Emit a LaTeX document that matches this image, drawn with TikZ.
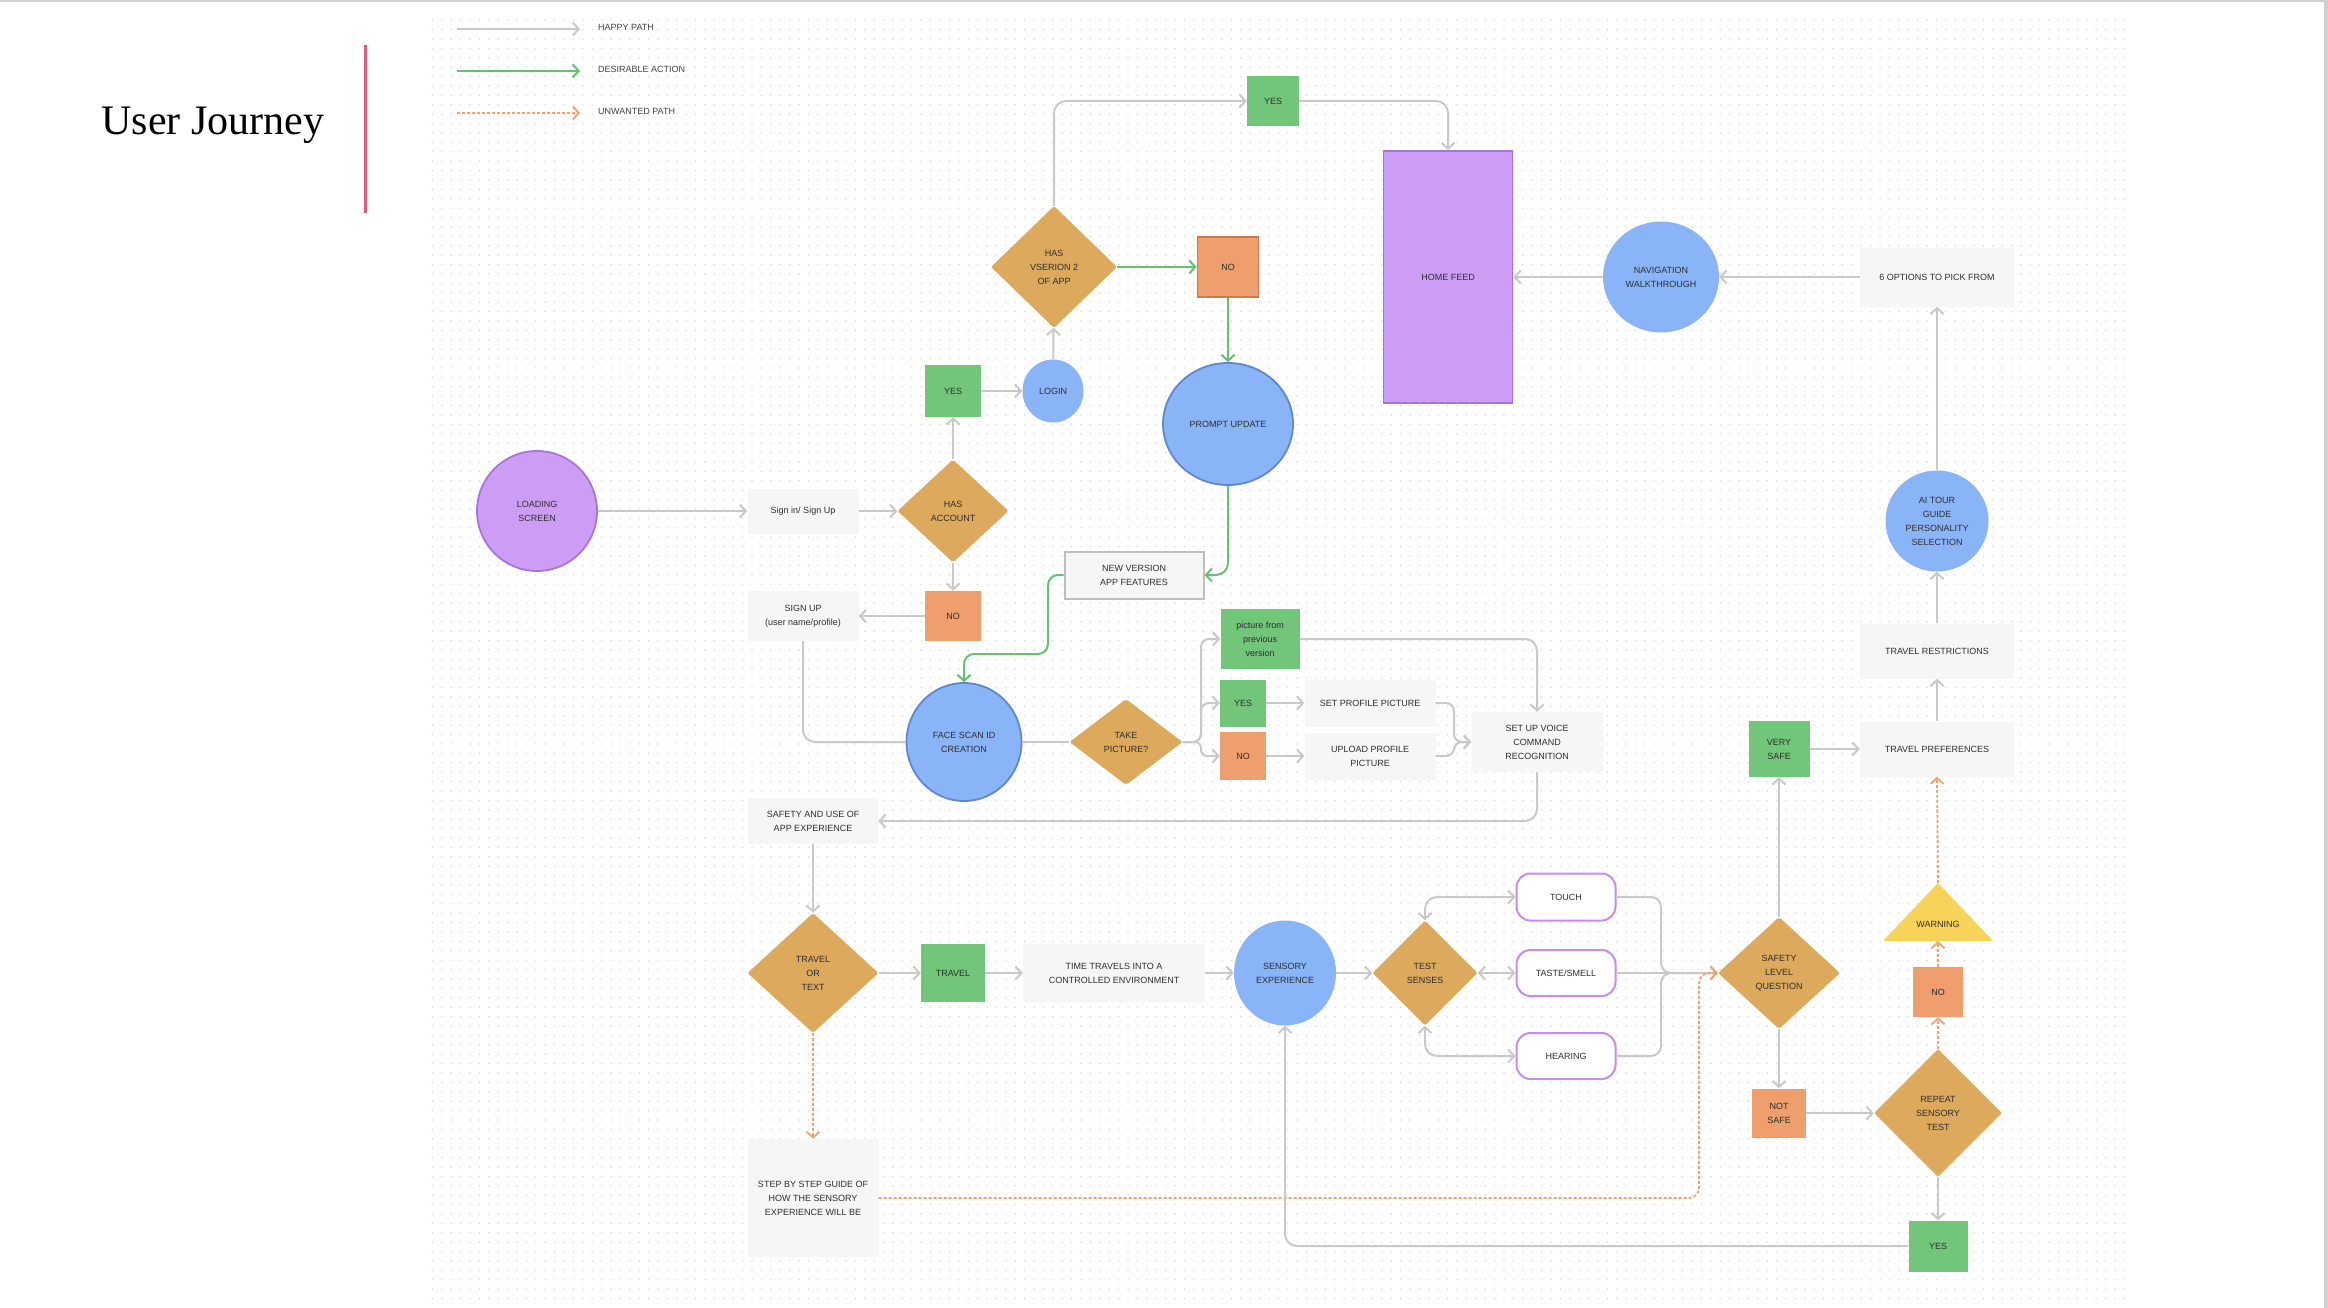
\documentclass[tikz,border=0pt]{standalone}
\usepackage{fontspec}
\setmainfont{Liberation Sans}
\newfontfamily\titlefont{Liberation Serif}
\usetikzlibrary{arrows.meta,shapes.geometric,patterns.meta}
\definecolor{cline}{HTML}{C9C9C9}
\definecolor{gline}{HTML}{62C46E}
\definecolor{oline}{HTML}{F2A26E}
\definecolor{purp}{HTML}{CD9DF6}
\definecolor{purpd}{HTML}{A873DA}
\definecolor{bluef}{HTML}{8AB4F8}
\definecolor{blued}{HTML}{5F87CF}
\definecolor{greenf}{HTML}{72C67A}
\definecolor{orangef}{HTML}{EF9E6D}
\definecolor{oranged}{HTML}{C97A4E}
\definecolor{gold}{HTML}{DCA95D}
\definecolor{boxg}{HTML}{F6F6F6}
\definecolor{boxgd}{HTML}{BEBEBE}
\definecolor{yel}{HTML}{F8D35A}
\definecolor{tcol}{HTML}{2E2E2E}
\definecolor{sensb}{HTML}{C58CF2}
\definecolor{titlered}{HTML}{E05C79}
\definecolor{dotc}{HTML}{D8D8D8}
\definecolor{edgeg}{HTML}{D0D0D0}
\tikzset{
  every node/.style={text=tcol, font=\fontsize{9}{14}\selectfont, align=center, inner sep=0pt},
  sz/.style 2 args={minimum width=#1pt, minimum height=#2pt},
  gbox/.style={rectangle, fill=boxg},
  gboxb/.style={rectangle, fill=boxg, draw=boxgd, line width=2pt},
  gr/.style={rectangle, fill=greenf},
  org/.style={rectangle, fill=orangef},
  orgb/.style={rectangle, fill=orangef, draw=oranged, line width=1.8pt},
  blu/.style={ellipse, fill=bluef},
  blub/.style={ellipse, fill=bluef, draw=blued, line width=1.8pt},
  pur/.style={fill=purp, draw=purpd, line width=1.8pt},
  dia/.style={diamond, fill=gold, rounded corners=2pt},
  sense/.style={rectangle, rounded corners=14pt, fill=white, draw=sensb, line width=2pt},
  jb/.tip={Straight Barb[length=6pt,width=13pt]},
  hp/.style={draw=cline, line width=2pt, -jb, rounded corners=12pt},
  hpl/.style={draw=cline, line width=2pt, rounded corners=12pt},
  hpb/.style={draw=cline, line width=2pt, jb-jb, rounded corners=12pt},
  da/.style={draw=gline, line width=2pt, -jb, rounded corners=12pt},
  ua/.style={draw=oline, line width=1.8pt, dash pattern=on 3pt off 2pt, -jb, rounded corners=12pt},
  legtext/.style={anchor=west, text=tcol!90, font=\fontsize{9}{11}\selectfont},
}
\begin{document}
\begin{tikzpicture}[x=1pt,y=-1pt]
\useasboundingbox (0,0) rectangle (2328,1308);
\fill[white] (0,0) rectangle (2328,1308);
% dotted canvas
\fill[pattern={Dots[radius=0.8pt,distance=9.4pt]}, pattern color=dotc] (428,20) rectangle (2132,1300);
% slide edges
\fill[edgeg] (0,0) rectangle (2328,2.5);
\fill[edgeg] (2324,0) rectangle (2328,1308);

% title
\node[font=\titlefont\fontsize{42}{48}\selectfont, text=black, anchor=base] (title) at (213,135) {User Journey};
\draw[titlered, line width=3pt] (365,45) -- (365,213);

% legend
\coordinate (l1a) at (457,29); \coordinate (l1b) at (580,29);
\coordinate (l2a) at (457,71); \coordinate (l2b) at (580,71);
\coordinate (l3a) at (457,113); \coordinate (l3b) at (580,113);
\draw[hp] (l1a) -- (l1b);
\draw[da] (l2a) -- (l2b);
\draw[ua] (l3a) -- (l3b);
\node[legtext] (lt1) at (598,27) {HAPPY PATH};
\node[legtext] (lt2) at (598,69) {DESIRABLE ACTION};
\node[legtext] (lt3) at (598,111) {UNWANTED PATH};

% ---------- nodes ----------
\node[ellipse, pur, sz={120}{120}] (load) at (537,511) {LOADING\\SCREEN};
\node[gbox, sz={111}{45}] (signin) at (803,511) {Sign in/ Sign Up};
\node[dia, sz={111}{103}] (hasacc) at (953,511) {HAS\\ACCOUNT};
\node[gr, sz={56}{52}] (yes1) at (953,391) {YES};
\node[blu, sz={61}{63}] (login) at (1053,391) {LOGIN};
\node[dia, sz={126}{122}] (hasv) at (1054,267) {HAS\\VSERION 2\\OF APP};
\node[gr, sz={52}{50}] (yes2) at (1273,101) {YES};
\node[rectangle, pur, sz={129}{252}] (home) at (1448,277) {HOME FEED};
\node[orgb, sz={61}{60}] (no1) at (1228,267) {NO};
\node[blub, sz={130}{122}] (prompt) at (1228,424) {PROMPT UPDATE};
\node[gboxb, sz={139}{47}] (newv) at (1134,575) {NEW VERSION\\APP FEATURES};
\node[org, sz={56}{50}] (no2) at (953,616) {NO};
\node[gbox, sz={111}{50}] (signup) at (803,616) {SIGN UP\\(user name/profile)};
\node[blub, sz={115}{118}] (face) at (964,742) {FACE SCAN ID\\CREATION};
\node[dia, sz={113}{86}] (take) at (1126,742) {TAKE\\PICTURE?};
\node[gr, sz={79}{60}] (prev) at (1260,639) {picture from\\previous\\version};
\node[gr, sz={46}{47}] (yes3) at (1243,703) {YES};
\node[org, sz={46}{48}] (no3) at (1243,756) {NO};
\node[gbox, sz={131}{47}] (setpp) at (1370,703) {SET PROFILE PICTURE};
\node[gbox, sz={131}{47}] (upload) at (1370,756) {UPLOAD PROFILE\\PICTURE};
\node[gbox, sz={131}{60}] (voice) at (1537,742) {SET UP VOICE\\COMMAND\\RECOGNITION};
\node[gbox, sz={130}{46}] (safety) at (813,821) {SAFETY AND USE OF\\APP EXPERIENCE};
\node[dia, sz={131}{120}] (tot) at (813,973) {TRAVEL\\OR\\TEXT};
\node[gr, sz={64}{58}] (travel) at (953,973) {TRAVEL};
\node[gbox, sz={182}{58}] (time) at (1114,973) {TIME TRAVELS INTO A\\CONTROLLED ENVIRONMENT};
\node[blu, sz={102}{105}] (sensory) at (1285,973) {SENSORY\\EXPERIENCE};
\node[dia, sz={105}{105}] (test) at (1425,973) {TEST\\SENSES};
\node[sense, sz={99}{47}] (touch) at (1566,897) {TOUCH};
\node[sense, sz={99}{46}] (taste) at (1566,973) {TASTE/SMELL};
\node[sense, sz={99}{46}] (hearing) at (1566,1056) {HEARING};
\node[gbox, sz={131}{118}] (step) at (813,1198) {STEP BY STEP GUIDE OF\\HOW THE SENSORY\\EXPERIENCE WILL BE};
\node[dia, sz={122}{112}] (safelvl) at (1779,973) {SAFETY\\LEVEL\\QUESTION};
\node[gr, sz={61}{56}] (verysafe) at (1779,749) {VERY\\SAFE};
\node[gbox, sz={154}{55}] (tpref) at (1937,749) {TRAVEL PREFERENCES};
\node[gbox, sz={154}{55}] (trestr) at (1937,651) {TRAVEL RESTRICTIONS};
\node[blu, sz={103}{101}] (ai) at (1937,521) {AI TOUR\\GUIDE\\PERSONALITY\\SELECTION};
\node[gbox, sz={154}{59}] (six) at (1937,277) {6 OPTIONS TO PICK FROM};
\node[blu, sz={116}{111}] (nav) at (1661,277) {NAVIGATION\\WALKTHROUGH};
\node[org, sz={54}{49}] (notsafe) at (1779,1113) {NOT\\SAFE};
\node[dia, sz={128}{128}] (repeat) at (1938,1113) {REPEAT\\SENSORY\\TEST};
\node[org, sz={50}{50}] (no4) at (1938,992) {NO};
\fill[yel, rounded corners=2pt] (1938,883) -- (1993,941) -- (1883,941) -- cycle;
\coordinate (warnt) at (1938,883);
\coordinate (warnb) at (1938,941);
\node (warn) at (1938,924) {WARNING};
\node[gr, sz={59}{51}] (yes4) at (1938,1246) {YES};

% ---------- connectors ----------
\draw[hp] (load) -- (signin);
\draw[hp] (signin) -- (hasacc);
\draw[hp] (hasacc) -- (yes1);
\draw[hp] (yes1) -- (login);
\draw[hp] (login) -- (hasv);
\draw[hp] (hasv.north) |- (yes2.west);
\draw[hp] (yes2.east) -| (home.north);
\draw[da] (hasv.east) -- (no1.west);
\draw[da] (no1.south) -- (prompt.north);
\draw[da] (prompt.south) |- (newv.east);
\draw[da, rounded corners=10pt] (newv.west) -- (1048,575) -- (1048,654) -- (964,654) -- (face.north);
\draw[hp] (hasacc.south) -- (no2.north);
\draw[hp] (no2.west) -- (signup.east);
\draw[hpl] (signup.south) |- (face.west);
\draw[hpl] (face.east) -- (take.west);
\draw[hp, rounded corners=8pt] (take.east) -- (1201,742) -- (1201,639) -- (prev.west);
\draw[hp, rounded corners=8pt] (take.east) -- (1201,742) -- (1201,703) -- (yes3.west);
\draw[hp, rounded corners=6pt] (take.east) -- (1201,742) -- (1201,756) -- (no3.west);
\draw[hp] (yes3.east) -- (setpp.west);
\draw[hp] (no3.east) -- (upload.west);
\draw[hp, rounded corners=8pt] (setpp.east) -- (1454,703) -- (1454,742) -- (voice.west);
\draw[hp, rounded corners=8pt] (upload.east) -- (1454,756) -- (1454,742) -- (voice.west);
\draw[hp] (prev.east) -| (voice.north);
\draw[hp] (voice.south) |- (safety.east);
\draw[hp] (safety.south) -- (tot.north);
\draw[hp] (tot.east) -- (travel.west);
\draw[hp] (travel.east) -- (time.west);
\draw[hp] (time.east) -- (sensory.west);
\draw[hp] (sensory.east) -- (test.west);
\draw[hpb] (test.north) |- (touch.west);
\draw[hpb] (test.east) -- (taste.west);
\draw[hpb] (test.south) |- (hearing.west);
\draw[hp, rounded corners=10pt] (touch.east) -- (1661,897) -- (1661,973) -- (safelvl.west);
\draw[hp] (taste.east) -- (safelvl.west);
\draw[hp, rounded corners=10pt] (hearing.east) -- (1661,1056) -- (1661,973) -- (safelvl.west);
\draw[ua] (tot.south) -- (step.north);
\draw[ua, rounded corners=10pt] (step.east) -- (1699,1198) -- (1699,973) -- (safelvl.west);
\draw[hp] (safelvl.north) -- (verysafe.south);
\draw[hp] (verysafe.east) -- (tpref.west);
\draw[hp] (tpref.north) -- (trestr.south);
\draw[hp] (trestr.north) -- (ai.south);
\draw[hp] (ai.north) -- (six.south);
\draw[hp] (six.west) -- (nav.east);
\draw[hp] (nav.west) -- (home.east);
\draw[hp] (safelvl.south) -- (notsafe.north);
\draw[hp] (notsafe.east) -- (repeat.west);
\draw[hp] (repeat.south) -- (yes4.north);
\draw[hp] (yes4.west) -| (sensory.south);
\draw[ua] (repeat.north) -- (no4.south);
\draw[ua] (no4.north) -- (warnb);
\draw[ua] (warnt) -- (tpref.south);
\end{tikzpicture}
\end{document}
